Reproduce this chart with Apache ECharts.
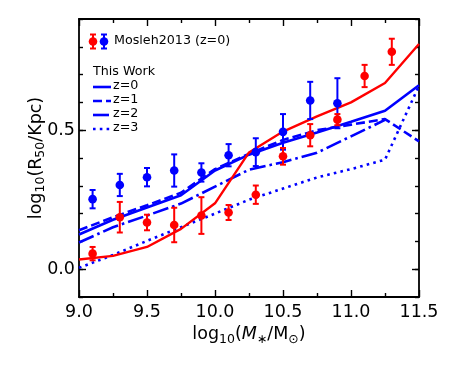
<!DOCTYPE html>
<html>
<head>
<meta charset="utf-8">
<script src="https://cdn.jsdelivr.net/npm/echarts@6/dist/echarts.min.js"></script>
<style>html,body{margin:0;padding:0;background:#fff;}#c{width:458px;height:366px;}</style>
</head>
<body>
<div id="c"></div>
<script>
// ---- data ----
const modelX = [9.0, 9.25, 9.5, 9.75, 10.0, 10.25, 10.5, 10.75, 11.0, 11.25, 11.5];
const redLine = [0.035, 0.048, 0.08, 0.145, 0.237, 0.42, 0.495, 0.55, 0.60, 0.67, 0.81];
const z0 = [0.125, 0.178, 0.222, 0.266, 0.355, 0.412, 0.455, 0.492, 0.53, 0.57, 0.662];
const z1 = [0.14, 0.187, 0.23, 0.275, 0.36, 0.415, 0.465, 0.50, 0.52, 0.54, 0.46];
const z2 = [0.096, 0.151, 0.193, 0.236, 0.297, 0.358, 0.385, 0.419, 0.478, 0.537, null];
const z3 = [0.005, 0.051, 0.102, 0.151, 0.2, 0.25, 0.29, 0.33, 0.36, 0.394, 0.66];

const obsBlueX = [9.1, 9.3, 9.5, 9.7, 9.9, 10.1, 10.3, 10.5, 10.7, 10.9];
const obsBlueY = [0.252, 0.303, 0.331, 0.355, 0.348, 0.41, 0.421, 0.494, 0.607, 0.597];
const obsBlueErr = [0.033, 0.04, 0.033, 0.058, 0.033, 0.04, 0.05, 0.064, 0.067, 0.09];

const obsRedX = [9.1, 9.3, 9.5, 9.7, 9.9, 10.1, 10.3, 10.5, 10.7, 10.9, 11.1, 11.3];
const obsRedY = [0.056, 0.187, 0.168, 0.159, 0.193, 0.204, 0.268, 0.406, 0.482, 0.538, 0.695, 0.782];
const obsRedErr = [0.024, 0.055, 0.028, 0.062, 0.066, 0.027, 0.033, 0.03, 0.04, 0.02, 0.04, 0.047];

const xTicks = [9.0, 9.5, 10.0, 10.5, 11.0, 11.5];
const yMajorTicks = [0.0, 0.5];

// ---- build ----
const FONT = 'DejaVu Sans';
const RED = '#ff0000', BLUE = '#0000ff';
const pairs = (xs, ys) => xs.map((x, i) => [x, ys[i]]);
const errData = (xs, ys, es) => xs.map((x, i) => [x, ys[i] - es[i], ys[i] + es[i]]);

function errRender(color) {
  return function (params, api) {
    const x = api.value(0);
    const lo = api.coord([x, api.value(1)]);
    const hi = api.coord([x, api.value(2)]);
    const cw = 3;
    const st = { stroke: color, lineWidth: 2 };
    return {
      type: 'group',
      children: [
        { type: 'line', shape: { x1: lo[0], y1: lo[1], x2: hi[0], y2: hi[1] }, style: st },
        { type: 'line', shape: { x1: lo[0] - cw, y1: lo[1], x2: lo[0] + cw, y2: lo[1] }, style: st },
        { type: 'line', shape: { x1: hi[0] - cw, y1: hi[1], x2: hi[0] + cw, y2: hi[1] }, style: st }
      ]
    };
  };
}

const axisLineStyle = { color: '#000', width: 1.8 };
const tickStyle = { color: '#000', width: 1.4 };
const labelStyle = { fontFamily: FONT, fontSize: 17.5, color: '#000' };

function xAx(pos, showLabel) {
  return {
    type: 'value', position: pos, min: 9, max: 11.5, interval: 0.5,
    axisLine: { show: true, onZero: false, lineStyle: axisLineStyle },
    axisTick: { show: true, inside: true, length: 7, lineStyle: tickStyle },
    minorTick: { show: true, splitNumber: 2, length: 4, lineStyle: tickStyle },
    splitLine: { show: false },
    axisLabel: showLabel ? Object.assign({ margin: 6, formatter: v => v.toFixed(1),
      customValues: xTicks }, labelStyle) : { show: false }
  };
}
function yMinor(pos) {
  return {
    type: 'value', position: pos, min: -0.1, max: 0.9, interval: 0.1,
    axisLine: { show: true, onZero: false, lineStyle: axisLineStyle },
    axisTick: { show: true, inside: true, length: 4, lineStyle: tickStyle },
    splitLine: { show: false }, axisLabel: { show: false }
  };
}
function yMajor(pos, showLabel) {
  const a = {
    type: 'value', position: pos, min: -0.1, max: 0.9,
    axisLine: { show: false },
    axisTick: { show: true, inside: true, length: 7, lineStyle: tickStyle, customValues: yMajorTicks },
    splitLine: { show: false },
    axisLabel: showLabel ? Object.assign({ margin: 4, customValues: yMajorTicks,
      formatter: v => v.toFixed(1) }, labelStyle) : { show: false }
  };
  if (showLabel) {
    a.name = 'log{sub|10}(R{sub|50}/Kpc)';
    a.nameLocation = 'middle';
    a.nameGap = 32;
    a.nameMoveOverlap = false;
    a.nameRotate = 90;
    a.nameTextStyle = {
      fontFamily: FONT, fontSize: 17.5, color: '#000',
      rich: { sub: { fontFamily: FONT, fontSize: 12.5, color: '#000', padding: [9, 0, 0, 0], verticalAlign: 'bottom' } }
    };
  }
  return a;
}

const xBottom = xAx('bottom', true);
xBottom.name = 'log{sub|10}({it|M}{sub|∗}/M{sub|⊙})';
xBottom.nameLocation = 'middle';
xBottom.nameGap = 24;
xBottom.nameTextStyle = {
  fontFamily: FONT, fontSize: 17.5, color: '#000', verticalAlign: 'top',
  rich: {
    sub: { fontFamily: FONT, fontSize: 12.5, color: '#000', padding: [9, 0, 0, 0], verticalAlign: 'bottom' },
    it: { fontFamily: FONT, fontSize: 17.5, fontStyle: 'italic', color: '#000' }
  }
};

function lineSeries(data, color, width, type, z) {
  return {
    type: 'line', data: pairs(modelX, data), showSymbol: false, symbol: 'none',
    connectNulls: false, z: z, silent: true,
    lineStyle: { color: color, width: width, type: type, cap: 'butt' }
  };
}

// legend graphics
const LX = 93;
const legendText = (x, y, t) => ({ type: 'text', left: x, top: y - 8, style: { text: t, font: '12.7px "DejaVu Sans"', fill: '#000' } });
function legendErr(x, y, color) {
  return [
    { type: 'line', shape: { x1: x, y1: y - 7, x2: x, y2: y + 7 }, style: { stroke: color, lineWidth: 2 } },
    { type: 'line', shape: { x1: x - 3, y1: y - 7, x2: x + 3, y2: y - 7 }, style: { stroke: color, lineWidth: 2 } },
    { type: 'line', shape: { x1: x - 3, y1: y + 7, x2: x + 3, y2: y + 7 }, style: { stroke: color, lineWidth: 2 } },
    { type: 'circle', shape: { cx: x, cy: y, r: 4.3 }, style: { fill: color } }
  ];
}
function legendLine(y, dash) {
  return { type: 'line', shape: { x1: LX, y1: y, x2: LX + 18, y2: y },
    style: { stroke: BLUE, lineWidth: 2.6, lineDash: dash } };
}

const option = {
  animation: false,
  backgroundColor: '#fff',
  grid: { left: 79, right: 39, top: 19, bottom: 69 },
  xAxis: [xBottom, xAx('top', false)],
  yAxis: [yMinor('left'), yMajor('left', true), yMinor('right'), yMajor('right', false)],
  series: [
    lineSeries(z3, BLUE, 2.6, [2.6, 4.2], 2),
    lineSeries(z2, BLUE, 2.6, [16, 4, 2.6, 4], 2),
    lineSeries(z1, BLUE, 2.6, [9, 4], 2),
    lineSeries(z0, BLUE, 2.6, 'solid', 2),
    lineSeries(redLine, RED, 2.4, 'solid', 3),
    { type: 'custom', renderItem: errRender(BLUE), data: errData(obsBlueX, obsBlueY, obsBlueErr), z: 4, silent: true,
      encode: { x: 0, y: [1, 2] } },
    { type: 'scatter', data: pairs(obsBlueX, obsBlueY), symbol: 'circle', symbolSize: 8.6, z: 5,
      itemStyle: { color: BLUE, opacity: 1 }, silent: true },
    { type: 'custom', renderItem: errRender(RED), data: errData(obsRedX, obsRedY, obsRedErr), z: 6, silent: true,
      encode: { x: 0, y: [1, 2] } },
    { type: 'scatter', data: pairs(obsRedX, obsRedY), symbol: 'circle', symbolSize: 8.6, z: 7,
      itemStyle: { color: RED, opacity: 1 }, silent: true }
  ],
  graphic: [].concat(
    legendErr(93, 41.5, RED),
    legendErr(104, 41.5, BLUE),
    [legendText(114, 42, 'Mosleh2013 (z=0)'),
     legendText(93, 73, 'This Work'),
     legendLine(87, null), legendText(113, 87, 'z=0'),
     legendLine(101, [9, 4]), legendText(113, 101, 'z=1'),
     legendLine(115, [16, 4, 2.6, 4]), legendText(113, 115, 'z=2'),
     legendLine(129, [2.6, 4.2]), legendText(113, 129, 'z=3')]
  )
};

const chart = echarts.init(document.getElementById('c'), null, { renderer: 'canvas' });
chart.setOption(option);
</script>
</body>
</html>
